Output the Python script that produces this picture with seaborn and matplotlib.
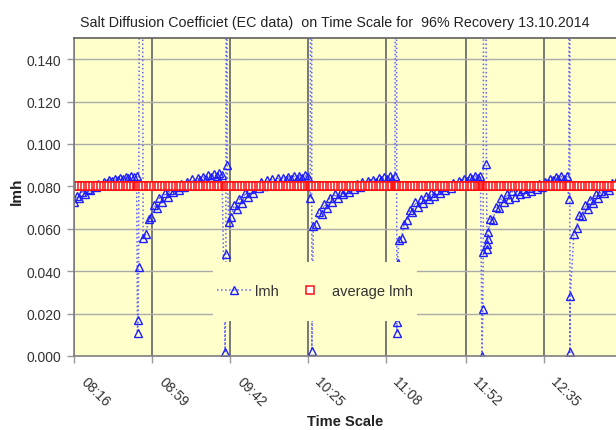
import matplotlib
matplotlib.use("Agg")
import matplotlib.pyplot as plt
import pandas as pd
import seaborn as sns
from matplotlib.patches import Rectangle
from matplotlib.transforms import ScaledTranslation

# ---------------- data ----------------
TITLE = "Salt Diffusion Coefficiet (EC data)  on Time Scale for  96% Recovery 13.10.2014"
X_LABEL = "Time Scale"
Y_LABEL = "lmh"
X_TICK_LABELS = ["08:16", "08:59", "09:42", "10:25", "11:08", "11:52", "12:35"]
Y_TICKS = [0.000, 0.020, 0.040, 0.060, 0.080, 0.100, 0.120, 0.140]
Y_MAX = 0.150
X_MAX_MIN = 298.7          # minutes after 08:16 shown at the right edge

STEP_MIN = 1.5             # logging interval inside a cycle (minutes)
CYCLE_START_MIN = [0.0, 38.1, 85.2, 131.9, 179.0, 229.5, 275.5]

cycle0 = [0.0725, 0.0755, 0.0745, 0.0775, 0.0765, 0.0790, 0.0782, 0.0803, 0.0795, 0.0812,
          0.0806, 0.0822, 0.0815, 0.0830, 0.0824, 0.0836, 0.0830, 0.0840, 0.0835, 0.0844,
          0.0839, 0.0847, 0.0842, 0.0848]
cycle1 = [0.0555, 0.0575, 0.0645, 0.0655, 0.0710, 0.0700, 0.0745, 0.0728, 0.0770, 0.0750,
          0.0784, 0.0772, 0.0799, 0.0785, 0.0811, 0.0797, 0.0823, 0.0808, 0.0833, 0.0818,
          0.0838, 0.0830, 0.0846, 0.0837, 0.0852, 0.0843, 0.0858, 0.0849, 0.0864, 0.0854]
cycle2 = [0.0630, 0.0655, 0.0710, 0.0695, 0.0740, 0.0723, 0.0770, 0.0748, 0.0787, 0.0768,
          0.0805, 0.0791, 0.0820, 0.0803, 0.0830, 0.0812, 0.0836, 0.0818, 0.0841, 0.0822,
          0.0841, 0.0830, 0.0845, 0.0834, 0.0848, 0.0837, 0.0851, 0.0840, 0.0853, 0.0842]
cycle3 = [0.0615, 0.0625, 0.0680, 0.0670, 0.0715, 0.0700, 0.0743, 0.0725, 0.0765, 0.0743,
          0.0775, 0.0762, 0.0788, 0.0774, 0.0800, 0.0786, 0.0810, 0.0795, 0.0820, 0.0805,
          0.0826, 0.0817, 0.0832, 0.0823, 0.0838, 0.0828, 0.0843, 0.0833, 0.0847, 0.0837,
          0.0850]
cycle4 = [0.0545, 0.0555, 0.0625, 0.0640, 0.0690, 0.0680, 0.0725, 0.0705, 0.0742, 0.0722,
          0.0755, 0.0742, 0.0769, 0.0756, 0.0783, 0.0770, 0.0796, 0.0782, 0.0808, 0.0793,
          0.0814, 0.0807, 0.0824, 0.0817, 0.0834, 0.0827, 0.0844, 0.0835, 0.0849, 0.0838,
          0.0850]
cycle5 = [0.0645, 0.0640, 0.0705, 0.0700, 0.0745, 0.0725, 0.0763, 0.0740, 0.0776, 0.0751,
          0.0780, 0.0764, 0.0787, 0.0770, 0.0794, 0.0779, 0.0803, 0.0788, 0.0812, 0.0798,
          0.0821, 0.0816, 0.0834, 0.0828, 0.0843, 0.0833, 0.0847, 0.0837, 0.0850]
cycle6 = [0.0575, 0.0605, 0.0665, 0.0660, 0.0710, 0.0695, 0.0737, 0.0720, 0.0763, 0.0745,
          0.0780, 0.0770, 0.0797, 0.0785, 0.0815, 0.0805, 0.0830]

# readings taken around each flush (values above the axis top run off the chart)
SPIKE_TIME_MIN = [
    [35.0, 35.3, 35.6, 37.0],
    [83.3, 83.7, 84.1, 84.4],
    [130.2, 130.8, 131.1],
    [177.4, 177.9, 178.1, 178.3],
    [224.9, 225.3, 225.5, 226.2, 227.3, 227.6, 227.8, 228.0, 228.3],
    [272.7, 273.2, 273.3, 273.5],
]
SPIKE_LMH = [
    [0.011, 0.017, 0.042, 0.500],
    [0.002, 0.048, 0.500, 0.090],
    [0.0745, 0.500, 0.0025],
    [0.500, 0.011, 0.016, 0.044],
    [0.0002, 0.022, 0.049, 0.500, 0.0906, 0.0505, 0.053, 0.055, 0.0585],
    [0.074, 0.500, 0.0017, 0.0285],
]
AVERAGE_LMH = 0.080

# ---------------- build table ----------------
cycles = [cycle0, cycle1, cycle2, cycle3, cycle4, cycle5, cycle6]
t_list, v_list = [], []
for start, vals in zip(CYCLE_START_MIN, cycles):
    t_list += [start + STEP_MIN * k for k in range(len(vals))]
    v_list += vals
for ts, vs in zip(SPIKE_TIME_MIN, SPIKE_LMH):
    t_list += ts
    v_list += vs
df = pd.DataFrame({"minutes": t_list, "lmh": v_list}).sort_values("minutes").reset_index(drop=True)
df["average lmh"] = AVERAGE_LMH


def to_min(s):
    h, m = s.split(":")
    return int(h) * 60 + int(m)


X_TICK_POS = [to_min(s) - to_min(X_TICK_LABELS[0]) for s in X_TICK_LABELS]

# ---------------- style ----------------
sns.set_theme(style="white")
plt.rcParams["font.family"] = ["Liberation Sans", "DejaVu Sans"]
BG = "#FFFFCC"
TXT = "#333333"

fig = plt.figure(figsize=(6.16, 4.31), dpi=100)
ax = fig.add_axes([74 / 616, 74 / 431, 542 / 616, 318 / 431])
ax.set_facecolor(BG)

sns.lineplot(data=df, x="minutes", y="lmh", ax=ax, estimator=None, sort=True,
             color="#6262FF", linestyle=":", linewidth=1.1,
             marker="^", markersize=5.4, markerfacecolor="none",
             markeredgecolor="#1E1EFF", markeredgewidth=1.0,
             label="lmh", legend=False)
sns.lineplot(data=df, x="minutes", y="average lmh", ax=ax, estimator=None, sort=True,
             color="#FF1010", linestyle="none",
             marker="s", markersize=5.8, markerfacecolor="white",
             markeredgecolor="#FF1010", markeredgewidth=1.1,
             label="average lmh", legend=False)

ax.set_xlim(0, X_MAX_MIN)
ax.set_ylim(0, Y_MAX)

ax.set_axisbelow(True)
ax.yaxis.grid(True, color="#ABABAB", linewidth=1.0)
ax.xaxis.grid(True, color="#6E6E6E", linewidth=1.3)

for side in ["left", "bottom", "top"]:
    ax.spines[side].set_visible(True)
    ax.spines[side].set_color("#808080")
    ax.spines[side].set_linewidth(1.2)
ax.spines["top"].set_color("#606060")
ax.spines["right"].set_visible(False)

ax.set_yticks(Y_TICKS)
ax.set_yticklabels([f"{v:.3f}" for v in Y_TICKS])
ax.set_xticks(X_TICK_POS)
ax.set_xticklabels(X_TICK_LABELS, rotation=-45, ha="left", va="center",
                   rotation_mode="anchor")
ax.tick_params(axis="both", which="major", bottom=True, left=True, direction="out",
               length=5, width=1, color="#9A9A9A", labelsize=10, labelcolor=TXT)
ax.tick_params(axis="y", pad=4)
ax.tick_params(axis="x", pad=12)
offset = ScaledTranslation(9 / 100, 0, fig.dpi_scale_trans)
for lab in ax.get_xticklabels():
    lab.set_transform(lab.get_transform() + offset)

ax.set_xlabel(X_LABEL, fontsize=10.5, fontweight="bold", color="#222222", va="top")
ax.xaxis.set_label_coords(0.5, -0.182)
ax.set_ylabel(Y_LABEL, fontsize=11, fontweight="bold", color="#222222")
ax.yaxis.set_label_coords(-0.092, 0.522)

ax.set_title(TITLE, x=0.4815, y=1.0377, pad=0, fontsize=10.3, color="#222222")

# legend panel
ax.add_patch(Rectangle((0.2565, 0.110), 0.3764, 0.1855, transform=ax.transAxes,
                       facecolor=BG, edgecolor="none", zorder=5))
handles, labels = ax.get_legend_handles_labels()
leg = ax.legend(handles, labels, loc="center", bbox_to_anchor=(0.4446, 0.2044), ncol=2,
                frameon=False, fontsize=10.5, handlelength=2.3, handletextpad=0.3,
                columnspacing=1.0, borderaxespad=0, borderpad=0)
leg.set_zorder(6)
for t in leg.get_texts():
    t.set_color(TXT)

fig.savefig("out.png", dpi=100)
